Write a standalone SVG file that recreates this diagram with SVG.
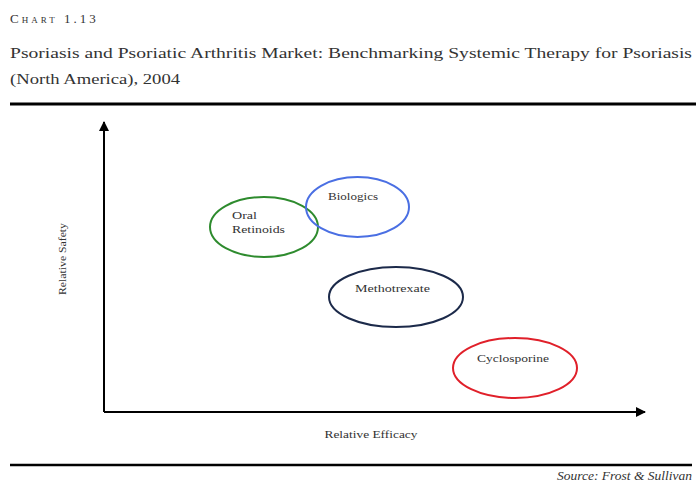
<svg xmlns="http://www.w3.org/2000/svg" width="696" height="481" viewBox="0 0 696 481">
<defs>
<marker id="ah" viewBox="0 0 10 10" refX="9" refY="5" markerWidth="5" markerHeight="5" orient="auto" markerUnits="strokeWidth">
<path d="M0,0 L10,5 L0,10 z" fill="#000"/>
</marker>
<style>
.t{font-family:"Liberation Serif","DejaVu Serif",serif;fill:#333}
.lbl{font-family:"Liberation Serif","DejaVu Serif",serif;font-size:11px;fill:#333}
.ell{fill:none;stroke-width:2}
</style>
</defs>
<rect width="696" height="481" fill="#fff"/>
<text class="t" x="10" y="23" font-size="13" style="font-variant:small-caps;letter-spacing:3px">Chart 1.13</text>
<text class="t" x="10" y="58" font-size="14.5" textLength="682" lengthAdjust="spacingAndGlyphs">Psoriasis and Psoriatic Arthritis Market: Benchmarking Systemic Therapy for Psoriasis</text>
<text class="t" x="10" y="84" font-size="14.5" textLength="170" lengthAdjust="spacingAndGlyphs">(North America), 2004</text>
<line x1="10" y1="104" x2="696" y2="104" stroke="#000" stroke-width="3"/>
<line x1="10" y1="465" x2="692" y2="465" stroke="#000" stroke-width="2.5"/>
<text class="t" x="692" y="480" font-size="11.5" font-style="italic" text-anchor="end" textLength="135" lengthAdjust="spacingAndGlyphs">Source: Frost &amp; Sullivan</text>
<g id="connectors">
<line x1="104" y1="412" x2="104" y2="122" stroke="#000" stroke-width="2" marker-end="url(#ah)"/>
<line x1="104" y1="412" x2="645" y2="412" stroke="#000" stroke-width="2" marker-end="url(#ah)"/>
</g>
<text class="lbl" x="371" y="438" text-anchor="middle" textLength="93" lengthAdjust="spacingAndGlyphs">Relative Efficacy</text>
<text class="lbl" transform="translate(66,259) rotate(-90)" text-anchor="middle" textLength="72" lengthAdjust="spacingAndGlyphs">Relative Safety</text>
<g id="oral-retinoids">
<ellipse class="ell" cx="264" cy="227" rx="54" ry="30" stroke="#2e8b2e"/>
<text class="lbl" x="232" y="219" textLength="25" lengthAdjust="spacingAndGlyphs">Oral</text>
<text class="lbl" x="232" y="233" textLength="53" lengthAdjust="spacingAndGlyphs">Retinoids</text>
</g>
<g id="biologics">
<ellipse class="ell" cx="357.5" cy="207" rx="51.5" ry="30" stroke="#4a6fe3"/>
<text class="lbl" x="328" y="200" textLength="50" lengthAdjust="spacingAndGlyphs">Biologics</text>
</g>
<g id="methotrexate">
<ellipse class="ell" cx="396" cy="297" rx="67" ry="30" stroke="#1c2a4a"/>
<text class="lbl" x="355" y="292" textLength="75" lengthAdjust="spacingAndGlyphs">Methotrexate</text>
</g>
<g id="cyclosporine">
<ellipse class="ell" cx="515" cy="368" rx="62" ry="30" stroke="#e0202a"/>
<text class="lbl" x="477" y="362" textLength="72" lengthAdjust="spacingAndGlyphs">Cyclosporine</text>
</g>
</svg>
